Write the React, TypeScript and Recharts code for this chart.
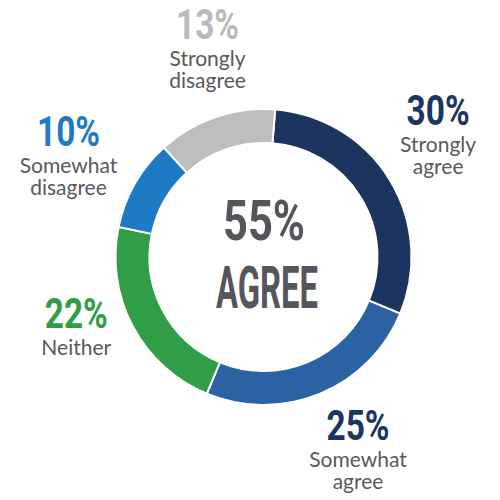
import { PieChart, Pie, Cell } from 'recharts'

const categories = ['Strongly agree', 'Somewhat agree', 'Neither', 'Somewhat disagree', 'Strongly disagree']
const shares = [30, 25, 22, 10, 13]
const sliceColors = ['#1b3560', '#2a62a4', '#2f9e47', '#1f7ac6', '#bcbdbf']
const labelColors = ['#1b3560', '#1b3560', '#2f9e47', '#1f7ac6', '#b9babc']
const centerValue = '55%'
const centerText = 'AGREE'

const data = categories.map((name, i) => ({ name, value: shares[i] }))

const RAD = Math.PI / 180
// small hand nudges so each label block sits where the original put it
const NUDGE: [number, number][] = [[-7, -6], [13, 1], [1, -30], [-10, 10], [13, -1]]

const PCT_FONT = 'Roboto, "DejaVu Sans Condensed", sans-serif'
const TEXT_FONT = 'Lato, "Open Sans", sans-serif'

function CenterText({ cx, cy }: { cx: number; cy: number }) {
  return (
    <g>
      <text
        x={cx + 0.5}
        y={cy - 17}
        textAnchor="middle"
        fontFamily={PCT_FONT}
        fontWeight={700}
        fontSize={56}
        textLength={82}
        lengthAdjust="spacingAndGlyphs"
        fill="#55565b"
      >
        {centerValue}
      </text>
      <text
        x={cx + 3.5}
        y={cy + 51}
        textAnchor="middle"
        fontFamily={PCT_FONT}
        fontWeight={700}
        fontSize={59}
        textLength={102}
        lengthAdjust="spacingAndGlyphs"
        fill="#55565b"
      >
        {centerText}
      </text>
    </g>
  )
}

function SliceLabel(props: any) {
  const { cx, cy, midAngle, outerRadius, index } = props
  const r = outerRadius + 65
  const lines = categories[index].split(' ')
  const half = lines.length > 1 ? 45 : 29
  const x = cx + r * Math.cos(-midAngle * RAD) + NUDGE[index][0]
  const top = cy + r * Math.sin(-midAngle * RAD) - half + NUDGE[index][1]

  return (
    <g>
      {index === 0 && <CenterText cx={cx} cy={cy} />}
      <text
        x={x}
        y={top + 30}
        textAnchor="middle"
        fontFamily={PCT_FONT}
        fontWeight={700}
        fontSize={42}
        textLength={63}
        lengthAdjust="spacingAndGlyphs"
        fill={labelColors[index]}
      >
        {`${shares[index]}%`}
      </text>
      {lines.map((line, i) => (
        <text
          key={line}
          x={x}
          y={top + 57 + i * 22}
          textAnchor="middle"
          fontFamily={TEXT_FONT}
          fontSize={21}
          fill="#58595b"
        >
          {line}
        </text>
      ))}
    </g>
  )
}

export default function App() {
  return (
    <div style={{ position: 'absolute', left: 0, top: 0, width: 500, height: 500, background: '#fff' }}>
      <PieChart width={500} height={500} margin={{ top: 0, right: 0, bottom: 0, left: 0 }}>
        <Pie
          data={data}
          dataKey="value"
          nameKey="name"
          cx={263.5}
          cy={257}
          innerRadius={114}
          outerRadius={148}
          startAngle={85.5}
          endAngle={-274.5}
          stroke="#ffffff"
          strokeWidth={2}
          label={SliceLabel}
          labelLine={false}
          isAnimationActive={false}
        >
          {data.map((d, i) => (
            <Cell key={d.name} fill={sliceColors[i]} />
          ))}
        </Pie>
      </PieChart>
    </div>
  )
}
